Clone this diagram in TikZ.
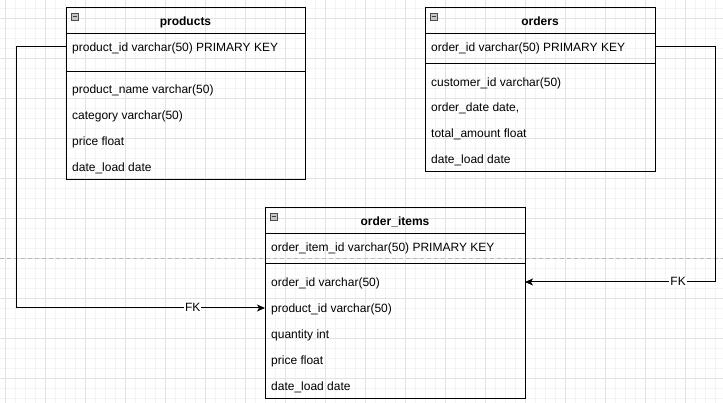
\documentclass[tikz,border=0pt]{standalone}
\usepackage{fontspec}
\setmainfont{Liberation Sans}
\usetikzlibrary{arrows.meta}
\definecolor{gridmajor}{HTML}{E2E2E2}
\definecolor{gridminor}{HTML}{F4F4F4}
\tikzset{
	every node/.append style={font=\fontsize{12}{14}\selectfont},
	tablebox/.style={draw, line width=1pt, inner sep=0pt, outer sep=0pt, anchor=north west},
	row/.style={anchor=west, inner sep=0pt, text height=13pt, text depth=3pt},
	title/.style={font=\fontsize{12}{14}\selectfont\bfseries, inner sep=0pt, text height=13pt, text depth=3pt},
	fk/.style={line width=1pt, -{Stealth[length=8pt,width=7pt,inset=2pt]}},
	fklabel/.style={fill=white, inner sep=1pt, text height=8pt, text depth=0pt}
}
\newcommand\foldbox[2]{\draw[fill=gray!45, draw=gray!60!black, line width=0.6pt] (#1,#2) rectangle ++(7,7);
	\draw[line width=0.8pt, black!75] (#1+1.5,#2+3.5) -- ++(4,0);}

\begin{document}
\begin{tikzpicture}[x=1pt,y=-1pt]
		%%%%% START %%%%%
		\useasboundingbox (0,0) rectangle (723,403);
		
		% grid
		\foreach \x in {5,15,...,715} \draw[gridminor] (\x,0) -- (\x,403);
		\foreach \y in {8,18,...,398} \draw[gridminor] (0,\y) -- (723,\y);
		\foreach \x in {5,45,...,685} \draw[gridmajor] (\x,0) -- (\x,403);
		\foreach \y in {18,58,...,378} \draw[gridmajor] (0,\y) -- (723,\y);
		\draw[gray!55, dash pattern=on 4pt off 3pt] (0,258.5) -- (723,258.5);
		
		% products
		\node[tablebox, minimum width=239, minimum height=172] (products) at (66,8) {};
		\draw[line width=1pt] (66,34) -- (305,34);
		\draw[line width=1pt] (66,72) -- (305,72);
		\foldbox{71}{13}
		\node[title] (prodtitle) at (185.5,21) {products};
		\node[row] (prodpk) at (72,47) {product\_id varchar(50) PRIMARY KEY};
		\node[row] (prodname) at (72,89) {product\_name varchar(50)};
		\node[row] (prodcat) at (72,115) {category varchar(50)};
		\node[row] (prodprice) at (72,141) {price float};
		\node[row] (proddate) at (72,167) {date\_load date};
		
		% orders
		\node[tablebox, minimum width=230, minimum height=164] (orders) at (425,8) {};
		\draw[line width=1pt] (425,34) -- (655,34);
		\draw[line width=1pt] (425,64) -- (655,64);
		\foldbox{430}{13}
		\node[title] (ordtitle) at (540,21) {orders};
		\node[row] (ordpk) at (431,47) {order\_id varchar(50) PRIMARY KEY};
		\node[row] (ordcust) at (431,82) {customer\_id varchar(50)};
		\node[row] (orddate) at (431,107) {order\_date date,};
		\node[row] (ordtotal) at (431,133) {total\_amount float};
		\node[row] (ordload) at (431,159) {date\_load date};
		
		% order_items
		\node[tablebox, minimum width=260, minimum height=190] (items) at (265,208) {};
		\draw[line width=1pt] (265,234) -- (525,234);
		\draw[line width=1pt] (265,264) -- (525,264);
		\foldbox{270}{213}
		\node[title] (itemtitle) at (395,221) {order\_items};
		\node[row] (itempk) at (271,247) {order\_item\_id varchar(50) PRIMARY KEY};
		\node[row] (itemord) at (271,282) {order\_id varchar(50)};
		\node[row] (itemprod) at (271,308) {product\_id varchar(50)};
		\node[row] (itemqty) at (271,333) {quantity int};
		\node[row] (itemprice) at (271,359) {price float};
		\node[row] (itemdate) at (271,385) {date\_load date};
		
		% foreign keys
		\draw[fk] (products.west |- prodpk) -- ++(-50,0) |- (items.west |- itemprod)
			node[fklabel, pos=0.855] (fkprod) {FK};
		\draw[fk] (orders.east |- ordpk) -- ++(60,0) |- (items.east |- itemord)
			node[fklabel, pos=0.597] (fkord) {FK};
		
		%%%%% END %%%%%
	\end{tikzpicture}
\end{document}
